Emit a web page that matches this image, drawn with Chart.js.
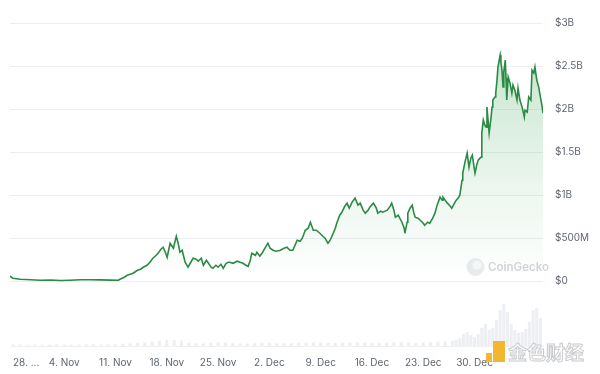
<!DOCTYPE html>
<html>
<head>
<meta charset="utf-8">
<script src="https://cdn.jsdelivr.net/npm/chart.js@4.4.1/dist/chart.umd.min.js"></script>
<style>
html,body{margin:0;padding:0;background:#fff;}
#wrap{width:600px;height:374px;position:relative;}
</style>
</head>
<body>
<div id="wrap"><canvas id="c" width="600" height="374"></canvas></div>
<script>
// Days since 28 Oct (00:00)
const priceDays = [-0.4,0.0,1.0,2.4,3.7,5.1,6.5,7.8,9.2,10.5,11.9,13.3,14.4,14.6,15.2,15.6,16.0,16.4,17.0,17.4,17.8,18.3,18.7,19.1,19.55,19.8,20.2,20.5,20.8,21.05,21.45,21.9,22.3,22.55,22.8,23.1,23.5,23.9,24.2,24.6,25.0,25.3,25.7,26.0,26.4,26.6,27.05,27.3,27.7,28.0,28.4,28.7,29.1,29.4,29.6,30.05,30.6,31.0,31.4,31.8,32.1,32.4,32.6,33.1,33.3,33.7,34.0,34.4,34.8,35.1,35.5,35.9,36.5,37.0,37.4,37.8,38.2,38.8,39.2,39.5,39.9,40.3,40.6,41.0,41.4,41.9,42.3,42.6,43.0,43.3,43.6,44.0,44.2,44.6,44.9,45.3,45.6,45.9,46.3,46.7,47.1,47.4,47.8,48.1,48.5,48.7,49.2,49.6,49.8,50.2,50.5,51.1,51.5,51.7,52.0,52.2,52.6,52.8,53.1,53.4,53.5,53.8,53.9,54.2,54.5,54.7,54.9,55.3,55.6,56.0,56.2,56.6,56.9,57.3,57.6,57.9,58.3,58.6,58.7,59.0,59.3,59.7,59.9,60.2,60.5,60.75,61.0,61.3,61.4,61.7,62.0,62.25,62.5,62.7,62.9,63.07,63.3,63.5,63.75,63.9,64.0,64.2,64.4,64.6,64.7,64.85,65.0,65.25,65.4,65.5,65.8,65.9,66.07,66.2,66.5,66.6,66.75,66.9,67.0,67.2,67.3,67.4,67.6,67.85,68.1,68.25,68.5,68.8,68.94,69.2,69.5,69.8,69.9,70.2,70.4,70.7,70.85,71.1,71.25,71.5,71.8,71.9,72.2,72.35];
// Market cap, billions USD
const priceValues = [0.058,0.035,0.023,0.017,0.012,0.015,0.009,0.012,0.017,0.018,0.016,0.013,0.012,0.023,0.047,0.07,0.081,0.093,0.128,0.14,0.163,0.186,0.221,0.267,0.302,0.326,0.372,0.395,0.337,0.279,0.442,0.384,0.523,0.442,0.337,0.36,0.221,0.163,0.209,0.267,0.256,0.233,0.267,0.186,0.244,0.221,0.163,0.151,0.186,0.163,0.198,0.151,0.209,0.221,0.221,0.209,0.233,0.221,0.209,0.186,0.174,0.244,0.326,0.302,0.337,0.291,0.326,0.384,0.442,0.384,0.36,0.349,0.36,0.384,0.395,0.36,0.36,0.477,0.465,0.5,0.593,0.616,0.686,0.593,0.593,0.558,0.523,0.5,0.442,0.477,0.535,0.616,0.674,0.767,0.802,0.872,0.907,0.849,0.919,0.965,0.884,0.907,0.826,0.791,0.826,0.86,0.907,0.849,0.791,0.814,0.802,0.826,0.872,0.907,0.826,0.744,0.767,0.733,0.686,0.616,0.558,0.686,0.791,0.849,0.884,0.802,0.744,0.733,0.709,0.674,0.651,0.686,0.674,0.733,0.791,0.884,0.977,0.942,0.977,0.942,0.907,0.872,0.849,0.895,0.942,0.965,1.0,1.174,1.256,1.384,1.488,1.326,1.43,1.465,1.349,1.256,1.349,1.407,1.43,1.442,1.721,1.872,1.814,1.791,2.023,1.872,1.721,1.895,2.023,2.105,2.14,2.186,2.337,2.488,2.628,2.547,2.453,2.256,2.43,2.57,2.36,2.105,2.372,2.302,2.186,2.279,2.221,2.105,2.244,2.105,2.023,1.907,1.988,1.965,2.14,2.105,2.453,2.419,2.488,2.337,2.244,2.186,2.047,1.953];

const volumeDays = [0,1,2,3,4,5,6,7,8,9,10,11,12,13,14,15,16,17,18,19,20,21,22,23,24,25,26,27,28,29,30,31,32,33,34,35,36,37,38,39,40,41,42,43,44,45,46,47,48,49,50,51,52,53,54,55,56,57,58,59,60,60.5,61,61.5,62,62.5,63,63.5,64,64.5,65,65.5,66,66.5,67,67.5,68,68.5,69,69.5,70,70.5,71,71.5,72];
// Volume, millions USD
const volumeValues = [40,35,30,35,30,30,35,30,30,35,35,40,35,40,45,60,70,80,90,110,130,150,150,140,80,70,65,75,90,85,70,65,60,70,80,75,70,65,70,75,80,90,85,80,75,80,85,90,85,80,75,80,90,95,85,80,90,100,110,120,125,150,200,300,350,275,225,300,450,550,400,450,650,900,1050,850,550,400,325,350,425,600,900,950,700];

const xTickDays = [0,7,14,21,28,35,42,49,56,63,70];
const xTickLabels = ['28. ...','4. Nov','11. Nov','18. Nov','25. Nov','2. Dec','9. Dec','16. Dec','23. Dec','30. Dec',''];
const yTickValues = [0,0.5,1,1.5,2,2.5,3];
const yTickLabels = ['$0','$500M','$1B','$1.5B','$2B','$2.5B','$3B'];

const priceData = priceDays.map((d,i)=>({x:d,y:priceValues[i]}));
const volumeData = volumeDays.map((d,i)=>({x:d,y:volumeValues[i]}));

const FONT = 'Inter, "Noto Sans", sans-serif';

const watermarks = {
  id:'watermarks',
  beforeDatasetsDraw(chart){
    const c = chart.ctx;
    c.save();
    c.fillStyle = '#eaecef';
    c.beginPath(); c.arc(475.5,267,9,0,Math.PI*2); c.fill();
    c.fillStyle = '#f7f8f9';
    c.beginPath(); c.arc(477,265,4.5,0,Math.PI*2); c.fill();
    c.fillStyle = '#d3d6da';
    c.font = '600 11.5px ' + FONT;
    c.textBaseline = 'middle';
    c.fillText('CoinGecko', 488, 267.5);
    c.restore();
  },
  afterDraw(chart){
    const c = chart.ctx;
    c.save();
    c.fillStyle = '#f2b630';
    c.fillRect(486,353,6,9);
    c.fillRect(493,341,12,21);
    c.font = 'bold 19px "Noto Sans CJK SC"';
    c.textBaseline = 'middle';
    c.fillStyle = '#ffffff';
    c.fillText('金色财经', 508, 353);
    c.strokeStyle = '#c9cbce';
    c.lineWidth = 1;
    c.strokeText('金色财经', 508, 353);
    c.restore();
  }
};

new Chart(document.getElementById('c'), {
  type:'line',
  data:{
    datasets:[
      {
        type:'line',
        data:priceData,
        yAxisID:'y',
        borderColor:'#2b8a44',
        borderWidth:1.6,
        pointRadius:0,
        tension:0,
        fill:'origin',
        order:1,
        backgroundColor:(ctx)=>{
          const chart = ctx.chart;
          const area = chart.chartArea;
          if(!area) return 'rgba(0,0,0,0)';
          const ys = chart.scales.y;
          const g = chart.ctx.createLinearGradient(0, ys.getPixelForValue(2.7), 0, ys.getPixelForValue(0));
          g.addColorStop(0,'rgba(70,170,95,0.30)');
          g.addColorStop(0.6,'rgba(70,170,95,0.10)');
          g.addColorStop(1,'rgba(70,170,95,0)');
          return g;
        }
      },
      {
        type:'bar',
        data:volumeData,
        yAxisID:'yv',
        backgroundColor:'rgba(214,220,228,0.45)',
        borderWidth:0,
        barPercentage:0.85,
        categoryPercentage:1,
        order:2
      }
    ]
  },
  options:{
    responsive:false,
    animation:false,
    devicePixelRatio:1,
    layout:{padding:{left:10,top:23,right:0,bottom:0}},
    plugins:{legend:{display:false},tooltip:{enabled:false}},
    scales:{
      x:{
        type:'linear',
        offset:false,
        min:-0.4,
        max:72.35,
        afterBuildTicks:(s)=>{ s.ticks = xTickDays.map(v=>({value:v})); },
        afterFit:(s)=>{ s.height = 28; s.paddingLeft = 0; s.paddingRight = 0; },
        grid:{display:false,offset:false},
        border:{display:true,color:'#eef0f2'},
        ticks:{
          autoSkip:false,
          maxRotation:0,
          align:'inner',
          padding:3,
          color:'#5f6670',
          font:{family:FONT,size:10},
          callback:(v)=>{ const i = xTickDays.indexOf(v); return i>=0 ? xTickLabels[i] : ''; }
        }
      },
      y:{
        type:'linear',
        position:'right',
        min:-0.752,
        max:3,
        afterBuildTicks:(s)=>{ s.ticks = yTickValues.map(v=>({value:v})); },
        afterFit:(s)=>{ s.width = 57; s.paddingTop = 0; s.paddingBottom = 0; },
        grid:{color:'#eceef1',drawTicks:false,lineWidth:1},
        border:{display:false},
        ticks:{
          padding:12,
          color:'#5f6670',
          font:{family:FONT,size:10},
          callback:(v)=>{ const i = yTickValues.indexOf(v); return i>=0 ? yTickLabels[i] : ''; }
        }
      },
      yv:{
        type:'linear',
        display:false,
        min:0,
        max:8075
      }
    }
  },
  plugins:[watermarks]
});
</script>
</body>
</html>
